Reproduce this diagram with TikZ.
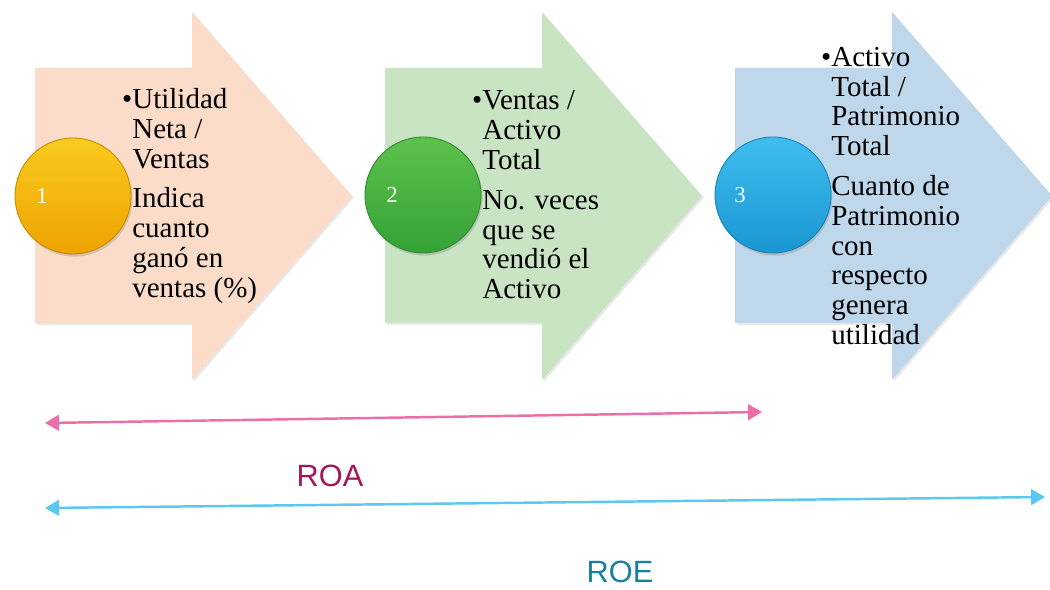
\documentclass[tikz,border=0pt]{standalone}
\usepackage{fontspec}
\setmainfont{Liberation Serif}
\setsansfont{Liberation Sans}
\usetikzlibrary{arrows.meta,shadows}

\definecolor{peach}{HTML}{FADCC8}
\definecolor{sage}{HTML}{C9E4C2}
\definecolor{sky}{HTML}{BFD7EA}
\definecolor{yellowtop}{HTML}{FACB1E}
\definecolor{yellowball}{HTML}{EEA300}
\definecolor{yellowrim}{HTML}{C88A00}
\definecolor{greentop}{HTML}{5DC24C}
\definecolor{greenball}{HTML}{35A236}
\definecolor{greenrim}{HTML}{2E8A2E}
\definecolor{bluetop}{HTML}{3FBDEE}
\definecolor{blueball}{HTML}{1A97D2}
\definecolor{bluerim}{HTML}{1880B5}
\definecolor{roaline}{HTML}{EE6FA8}
\definecolor{roatext}{HTML}{A5175A}
\definecolor{roeline}{HTML}{5CC8F0}
\definecolor{roetext}{HTML}{17809F}

\begin{document}
\begin{tikzpicture}[
    x=0.02cm, y=-0.02cm,
    stepshape/.style={fill=#1, draw=none,
                      drop shadow={opacity=0.18, shadow xshift=1pt, shadow yshift=-1pt}},
    ball/.style={circle, minimum size=2.32cm, inner sep=0pt, line width=0.5pt,
                 draw=#1rim, top color=#1top, bottom color=#1ball,
                 drop shadow={opacity=0.3, shadow xshift=0.8pt, shadow yshift=-1.5pt}},
    num/.style={white, font=\fontsize{13}{13}\selectfont, inner sep=0pt},
    txt/.style={anchor=west, inner sep=0pt, align=left,
                font=\fontsize{16.5}{17}\selectfont},
    span/.style={line width=1.4pt,
                 {Triangle[length=8pt,width=9pt]}-{Triangle[length=8pt,width=9pt]}},
    lbl/.style={font=\sffamily\fontsize{17.5}{18}\selectfont}
]
\useasboundingbox (0,0) rectangle (1050,590);

% =========================================================
% STEP 1: margen neto
% =========================================================
\draw[stepshape=peach] (35,68) -- (192,68) -- (192,12) -- (352,196)
      -- (192,380) -- (192,323) -- (35,323) -- cycle;
\node[ball=yellow] (ball1) at (73,196) {};
\node[num, xshift=-0.62cm] (num1) at (ball1) {1};
\node[txt] (txt1) at (132,196)
      {\llap{\textbullet}Utilidad\\Neta /\\Ventas\\[5.5pt]Indica\\cuanto\\ganó en\\ventas (\%)};

% =========================================================
% STEP 2: rotacion del activo
% =========================================================
\begin{scope}[shift={(350,0)}]
  \draw[stepshape=sage] (35,68) -- (192,68) -- (192,12) -- (352,196)
        -- (192,380) -- (192,323) -- (35,323) -- cycle;
  \node[ball=green] (ball2) at (73,195) {};
  \node[num, xshift=-0.62cm] (num2) at (ball2) {2};
  \node[txt] (txt2) at (132,195)
        {\llap{\textbullet}Ventas /\\Activo\\Total\\[5.5pt]No. veces\\que se\\vendió el\\Activo};
\end{scope}

% =========================================================
% STEP 3: apalancamiento
% =========================================================
\begin{scope}[shift={(700,0)}]
  \draw[stepshape=sky] (35,68) -- (192,68) -- (192,12) -- (352,196)
        -- (192,380) -- (192,323) -- (35,323) -- cycle;
  \node[ball=blue] (ball3) at (73,195) {};
  \node[num, xshift=-0.66cm] (num3) at (ball3) {3};
  \node[txt] (txt3) at (131,196)
        {\llap{\textbullet}Activo\\Total /\\Patrimonio\\Total\\[5.5pt]Cuanto de\\Patrimonio\\con\\respecto\\genera\\utilidad};
\end{scope}

% =========================================================
% spans: ROA covers steps 1-2, ROE covers all three
% =========================================================
\coordinate (roaL) at (45,423);
\coordinate (roaR) at (762,412);
\draw[span, roaline] (roaL) -- (roaR);
\node[lbl, roatext] (roa) at (330,476) {ROA};

\coordinate (roeL) at (45,508);
\coordinate (roeR) at (1045,497);
\draw[span, roeline] (roeL) -- (roeR);
\node[lbl, roetext] (roe) at (620,572) {ROE};

\end{tikzpicture}
\end{document}
